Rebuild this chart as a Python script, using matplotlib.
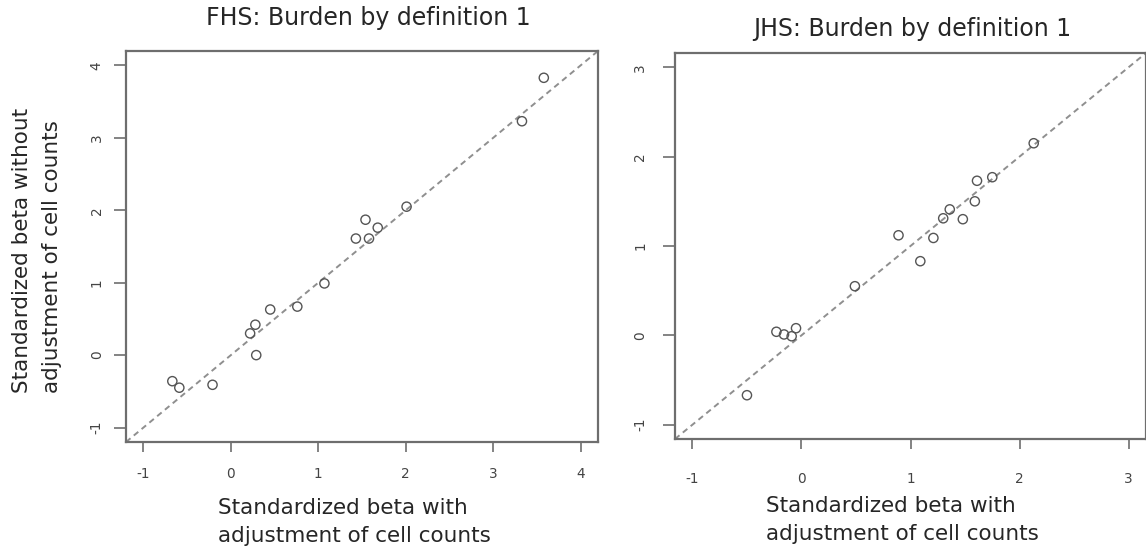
import matplotlib
matplotlib.use("Agg")
import matplotlib.pyplot as plt

plt.rcParams['font.family'] = ['DejaVu Sans']
plt.rcParams['axes.unicode_minus'] = False

# FHS betas (with adjustment, without adjustment)
fhs_with = [3.58, 3.33, 2.01, 1.54, 1.68, 1.43, 1.58, 1.07, 0.76, 0.45,
            0.28, 0.22, 0.29, -0.21, -0.67, -0.59]
fhs_without = [3.83, 3.23, 2.05, 1.87, 1.76, 1.61, 1.61, 0.99, 0.67, 0.63,
               0.42, 0.30, 0.00, -0.41, -0.36, -0.45]

# JHS betas
jhs_with = [2.13, 1.75, 1.61, 1.59, 1.48, 1.36, 1.30, 1.21, 0.89, 1.09,
            0.49, -0.23, -0.16, -0.09, -0.05, -0.50]
jhs_without = [2.15, 1.77, 1.73, 1.50, 1.30, 1.41, 1.31, 1.09, 1.12, 0.83,
               0.55, 0.04, 0.01, -0.01, 0.08, -0.67]

fhs_ticks = [-1, 0, 1, 2, 3, 4]
jhs_ticks = [-1, 0, 1, 2, 3]

xlab = "Standardized beta with\nadjustment of cell counts"
ylab = "Standardized beta without\nadjustment of cell counts"

W, H = 1146, 554
fig = plt.figure(figsize=(W / 100, H / 100), dpi=100)
ax1 = fig.add_axes([126 / W, (H - 442) / H, 472 / W, 391 / H])
ax2 = fig.add_axes([675 / W, (H - 439) / H, 471 / W, 386 / H])

gray = '#6e6e6e'
txt = '#262626'


def panel(ax, xs, ys, ticks, lim, xpad, ypad):
    ax.scatter(xs, ys, s=44, facecolors='none', edgecolors='#555555',
               linewidths=1.0, zorder=3)
    ax.axline((0, 0), slope=1, color='#8f8f8f', lw=1.4, ls=(0, (3, 2.2)))
    ax.set_xlim(*lim)
    ax.set_ylim(*lim)
    ax.set_xticks(ticks)
    ax.set_yticks(ticks)
    ax.set_xticklabels([str(t) for t in ticks])
    ax.set_yticklabels([str(t) for t in ticks], rotation=90, va='center')
    for sp in ax.spines.values():
        sp.set_color(gray)
        sp.set_linewidth(1.6)
    ax.tick_params(axis='x', length=7, width=1.2, color=gray, pad=xpad,
                   labelsize=9.8, labelcolor='#444444')
    ax.tick_params(axis='y', length=9, width=1.2, color=gray, pad=ypad,
                   labelsize=9.8, labelcolor='#444444')


panel(ax1, fhs_with, fhs_without, fhs_ticks, (-1.2, 4.2), 11, 7)
panel(ax2, jhs_with, jhs_without, jhs_ticks, (-1.16, 3.16), 17, 11)

fig.text(368 / W, 1 - 25 / H, "FHS: Burden by definition 1", ha='center',
         va='baseline', fontsize=17, color=txt)
fig.text(912 / W, 1 - 36 / H, "JHS: Burden by definition 1", ha='center',
         va='baseline', fontsize=17, color=txt)

for ax, cx, cy in [(ax1, 354, 498), (ax2, 902, 496)]:
    fig.text(cx / W, 1 - cy / H, xlab, ha='center', va='top',
             multialignment='left', fontsize=15.5, color=txt,
             linespacing=1.5)

fig.text(37 / W, 1 - 250 / H, ylab, rotation=90, ha='center', va='center',
         multialignment='left', fontsize=15.5, color=txt,
         linespacing=1.6)

fig.savefig("out.png", dpi=100)
